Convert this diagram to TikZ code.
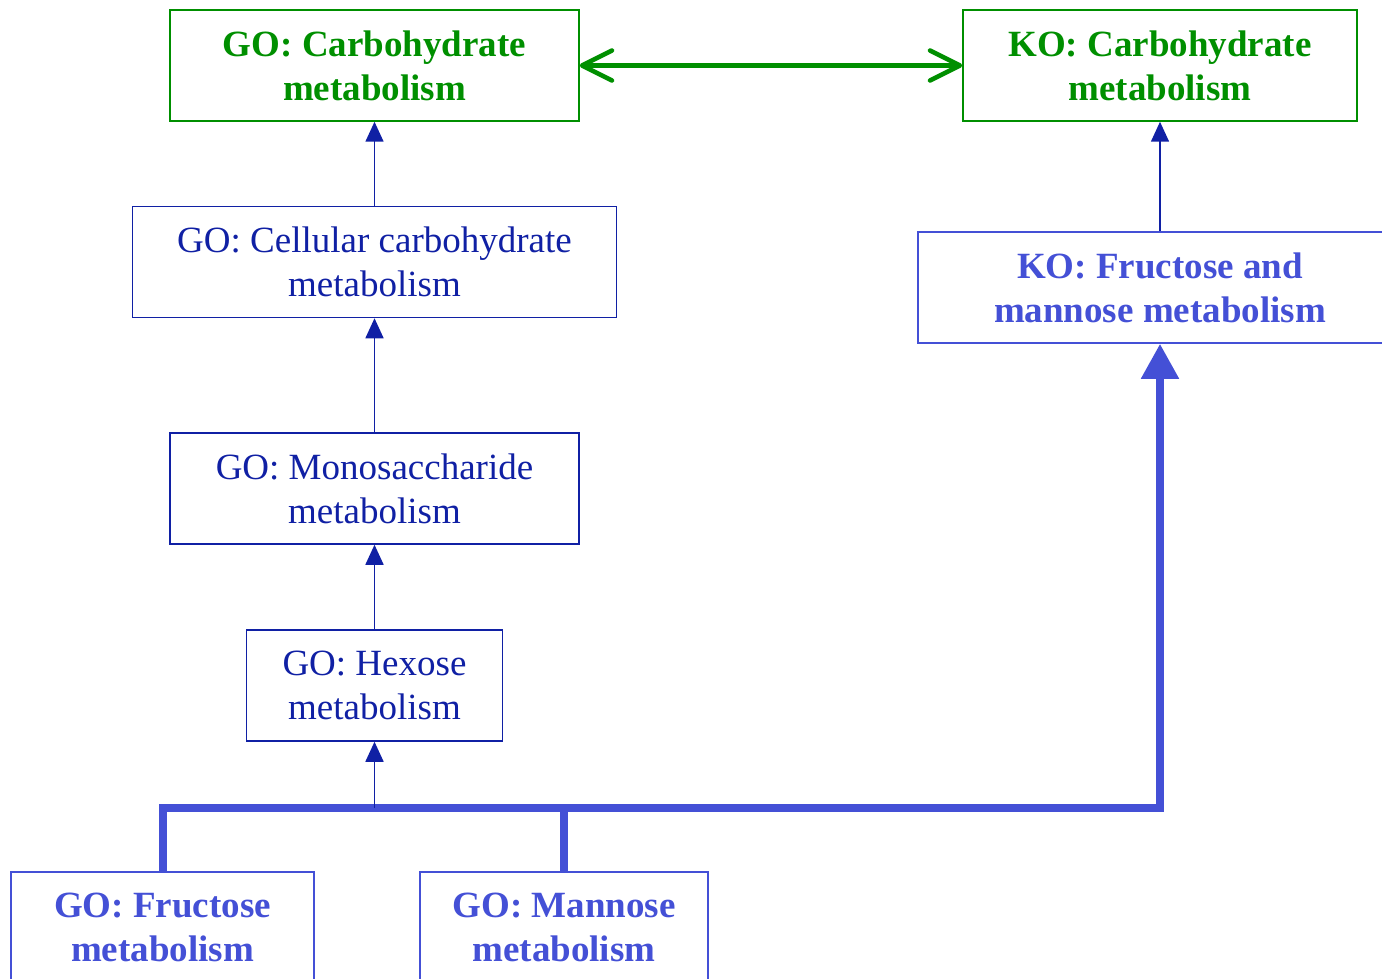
\documentclass[tikz,border=0pt]{standalone}
\usepackage{fontspec}
\setmainfont{Liberation Serif}
\usetikzlibrary{arrows.meta}
\definecolor{gogreen}{RGB}{0,143,0}
\definecolor{navy}{RGB}{16,32,164}
\definecolor{lightblue}{RGB}{68,80,214}
\begin{document}
\begin{tikzpicture}[x=1pt,y=-1pt,
  termbox/.style={draw, line width=1.5pt, align=center, inner sep=0pt,
    font=\fontsize{37}{44}\selectfont, minimum height=111pt},
  greenbox/.style={termbox, gogreen, text=gogreen, font=\fontsize{37}{44}\selectfont\bfseries},
  navybox/.style={termbox, navy, text=navy},
  bluebox/.style={termbox, lightblue, text=lightblue, font=\fontsize{37}{44}\selectfont\bfseries},
  isa/.style={draw=navy, line width=1.6pt, -{Triangle[length=20pt,width=18pt]}, navy},
  bus/.style={draw=lightblue, line width=8pt},
  equiv/.style={draw=gogreen, line width=4.5pt, line cap=round,
    {Straight Barb[length=30pt,width=30pt,round]}-{Straight Barb[length=30pt,width=30pt,round]}}
]
\clip (0,0) rectangle (1382,979);

% GO hierarchy
\node[greenbox, minimum width=409pt] (gocarb) at (374.5,65.5) {GO: Carbohydrate\\metabolism};
\node[navybox,  minimum width=484pt] (gocell) at (374.5,262) {GO: Cellular carbohydrate\\metabolism};
\node[navybox,  minimum width=409pt] (gomono) at (374.5,488.5) {GO: Monosaccharide\\metabolism};
\node[navybox,  minimum width=256pt] (gohex)  at (374.5,685.5) {GO: Hexose\\metabolism};
\node[bluebox,  minimum width=303pt] (gofru)  at (162.5,927.5) {GO: Fructose\\metabolism};
\node[bluebox,  minimum width=288pt] (goman)  at (564,927.5) {GO: Mannose\\metabolism};

% KO hierarchy
\node[greenbox, minimum width=394pt] (kocarb) at (1160,65.5) {KO: Carbohydrate\\metabolism};
\node[bluebox,  minimum width=484pt] (kofm)   at (1160,287.5) {KO: Fructose and\\mannose metabolism};

% is-a links
\draw[isa] (gocell.north) -- (gocarb.south);
\draw[isa] (gomono.north) -- (gocell.south);
\draw[isa] (gohex.north) -- (gomono.south);
\draw[isa] (kofm.north -| kocarb.south) -- (kocarb.south);

% mapping bus from the GO leaves
\coordinate (junction) at (374.5,808);
\coordinate (bend) at (1160,808);
\draw[bus, -{Triangle[length=35pt,width=36pt]}] (gofru.north) |- (bend) -- (kofm.south);
\draw[bus] (goman.north) -- (goman.north |- bend);
\draw[isa] (junction) -- (gohex.south);

% equivalence between the two roots
\draw[equiv] (gocarb.east) -- (kocarb.west);
\end{tikzpicture}
\end{document}
